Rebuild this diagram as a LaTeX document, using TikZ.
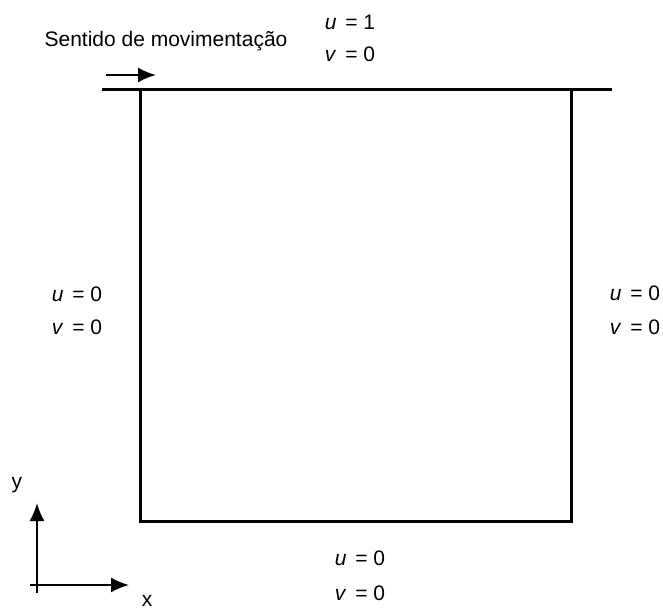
\documentclass[tikz,border=0pt]{standalone}
\usepackage{fontspec}
\setmainfont{Liberation Sans}
\usetikzlibrary{positioning,arrows.meta}

\begin{document}
\begin{tikzpicture}[x=1pt, y=-1pt,
        lbl/.style={font=\fontsize{21}{24}\selectfont, inner sep=0pt, anchor=base},
        wall/.style={line width=3pt, line cap=rect},
        arr/.style={line width=2pt, -{Latex[length=18pt, width=15pt]}}
    ]
    \useasboundingbox (0,0) rectangle (663,609);

    % Moving lid
    \coordinate (lidl) at (103,90);
    \coordinate (lidr) at (610,90);
    \draw[wall] (lidl) -- (lidr);

    % Cavity walls
    \coordinate (tl) at (140,90);
    \coordinate (bl) at (140,521);
    \coordinate (br) at (571,521);
    \coordinate (tr) at (571,90);
    \draw[wall, line join=miter] (tl) -- (bl) -- (br) -- (tr);

    % Direction of motion
    \node[lbl] (sentido) at (166,47) {Sentido de movimentação};
    \coordinate (movs) at (106,75);
    \coordinate (move) at (156,75);
    \draw[arr] (movs) -- (move);

    % Boundary conditions
    \node[lbl] (topu)   at (350,29.5)  {\textit{u}\hspace{3pt} = 1};
    \node[lbl] (topv)   at (350,61.5)  {\textit{v}\hspace{3pt} = 0};
    \node[lbl] (leftu)  at (77,301.5)  {\textit{u}\hspace{3pt} = 0};
    \node[lbl] (leftv)  at (77,334.5)  {\textit{v}\hspace{3pt} = 0};
    \node[lbl] (rightu) at (635,300.5) {\textit{u}\hspace{3pt} = 0};
    \node[lbl] (rightv) at (635,334.5) {\textit{v}\hspace{3pt} = 0};
    \node[lbl] (botu)   at (360,565.5) {\textit{u}\hspace{3pt} = 0};
    \node[lbl] (botv)   at (360,600.5) {\textit{v}\hspace{3pt} = 0};

    % Axes
    \coordinate (ybot) at (37,593);
    \coordinate (ytip) at (37,503);
    \coordinate (xlft) at (30,585);
    \coordinate (xtip) at (129,585);
    \draw[arr] (ybot) -- (ytip);
    \draw[arr] (xlft) -- (xtip);
    \node[lbl] (ylbl) at (17,488) {y};
    \node[lbl] (xlbl) at (147,606) {x};

\end{tikzpicture}
\end{document}
